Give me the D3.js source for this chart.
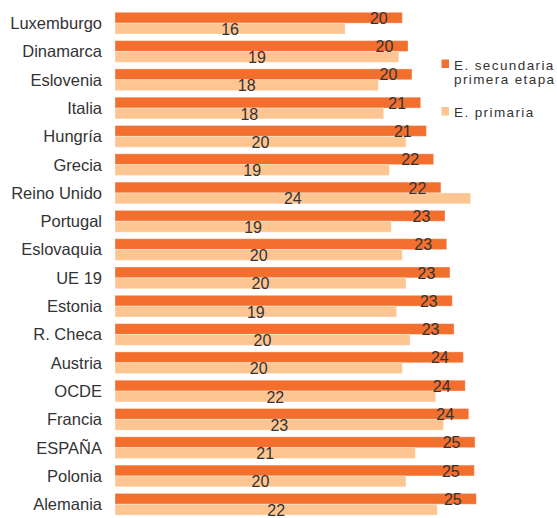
<!DOCTYPE html>
<html>
<head>
<meta charset="utf-8">
<script src="https://cdn.jsdelivr.net/npm/d3@7"></script>
<style>
  html, body { margin: 0; padding: 0; background: #fff; }
  svg { display: block; font-family: "Liberation Sans", Arial, sans-serif; }
</style>
</head>
<body>
<svg id="chart" width="557" height="518"></svg>
<script>
const categories = ["Luxemburgo","Dinamarca","Eslovenia","Italia","Hungría","Grecia","Reino Unido","Portugal","Eslovaquia","UE 19","Estonia","R. Checa","Austria","OCDE","Francia","ESPAÑA","Polonia","Alemania"];
const secundaria = [19.72, 20.11, 20.38, 20.98, 21.37, 21.87, 22.37, 22.65, 22.77, 22.99, 23.15, 23.27, 23.91, 24.04, 24.28, 24.71, 24.66, 24.80];
const primaria   = [15.79, 19.48, 18.07, 18.44, 19.97, 18.83, 24.41, 18.96, 19.72, 19.97, 19.33, 20.25, 19.72, 22.01, 22.55, 20.61, 19.97, 22.12];
const seriesKeys = ["sec", "pri"];
const legendLines = [["E. secundaria", "primera etapa"], ["E. primaria"]];
const colors = { sec: "#F26F2D", pri: "#FCC592" };

const svg = d3.select("#chart");
const fmt = d3.format(".0f");

const x = d3.scaleLinear().domain([0, 25]).range([115, 115 + 25 * 14.57]);
const y = d3.scaleBand().domain(categories).range([9, 9 + 18 * 28.3])
  .paddingInner(0.233).paddingOuter(0.1165);
const ySub = d3.scaleBand().domain(seriesKeys).range([0, y.bandwidth()]);

const rows = categories.map((c, i) => ({ cat: c, sec: secundaria[i], pri: primaria[i] }));

const g = svg.append("g");
const row = g.selectAll("g.row").data(rows).join("g")
  .attr("class", "row")
  .attr("transform", d => `translate(0,${y(d.cat)})`);

row.selectAll("rect").data(d => seriesKeys.map(k => ({ key: k, value: d[k] })))
  .join("rect")
  .attr("x", x(0))
  .attr("y", d => ySub(d.key))
  .attr("width", d => x(d.value) - x(0))
  .attr("height", ySub.bandwidth())
  .attr("fill", d => colors[d.key])
  .attr("stroke", "rgba(255,255,255,0.35)")
  .attr("stroke-width", 1);

// category labels
row.append("text")
  .attr("x", 102)
  .attr("y", y.bandwidth() / 2)
  .attr("dy", "0.36em")
  .attr("text-anchor", "end")
  .attr("font-size", "16.5px")
  .attr("fill", "#333")
  .text(d => d.cat);

// value labels, secundaria (near end)
row.append("text")
  .attr("x", d => x(d.sec) - 23.5)
  .attr("y", ySub("sec") + ySub.bandwidth() / 2)
  .attr("dy", "0.38em")
  .attr("text-anchor", "middle")
  .attr("font-size", "16px")
  .attr("fill", "#333")
  .text(d => fmt(d.sec));

// value labels, primaria (centred)
row.append("text")
  .attr("x", d => (x(0) + x(d.pri)) / 2)
  .attr("y", ySub("pri") + ySub.bandwidth() / 2)
  .attr("dy", "0.38em")
  .attr("text-anchor", "middle")
  .attr("font-size", "16px")
  .attr("fill", "#333")
  .text(d => fmt(d.pri));

// legend
const legendTop = [59.5, 107];
const legend = svg.append("g");
seriesKeys.forEach((k, i) => {
  const lg = legend.append("g").attr("transform", `translate(441.5,${legendTop[i]})`);
  lg.append("rect").attr("x", 0).attr("y", 0).attr("width", 7.5).attr("height", 8.5)
    .attr("fill", colors[k]);
  const t = lg.append("text")
    .attr("x", 12.5).attr("y", 10)
    .attr("font-size", "13.5px")
    .attr("letter-spacing", "1.4px")
    .attr("fill", "#333");
  legendLines[i].forEach((line, j) => {
    t.append("tspan").attr("x", 12.5).attr("dy", j === 0 ? 0 : 14).text(line);
  });
});
</script>
</body>
</html>
